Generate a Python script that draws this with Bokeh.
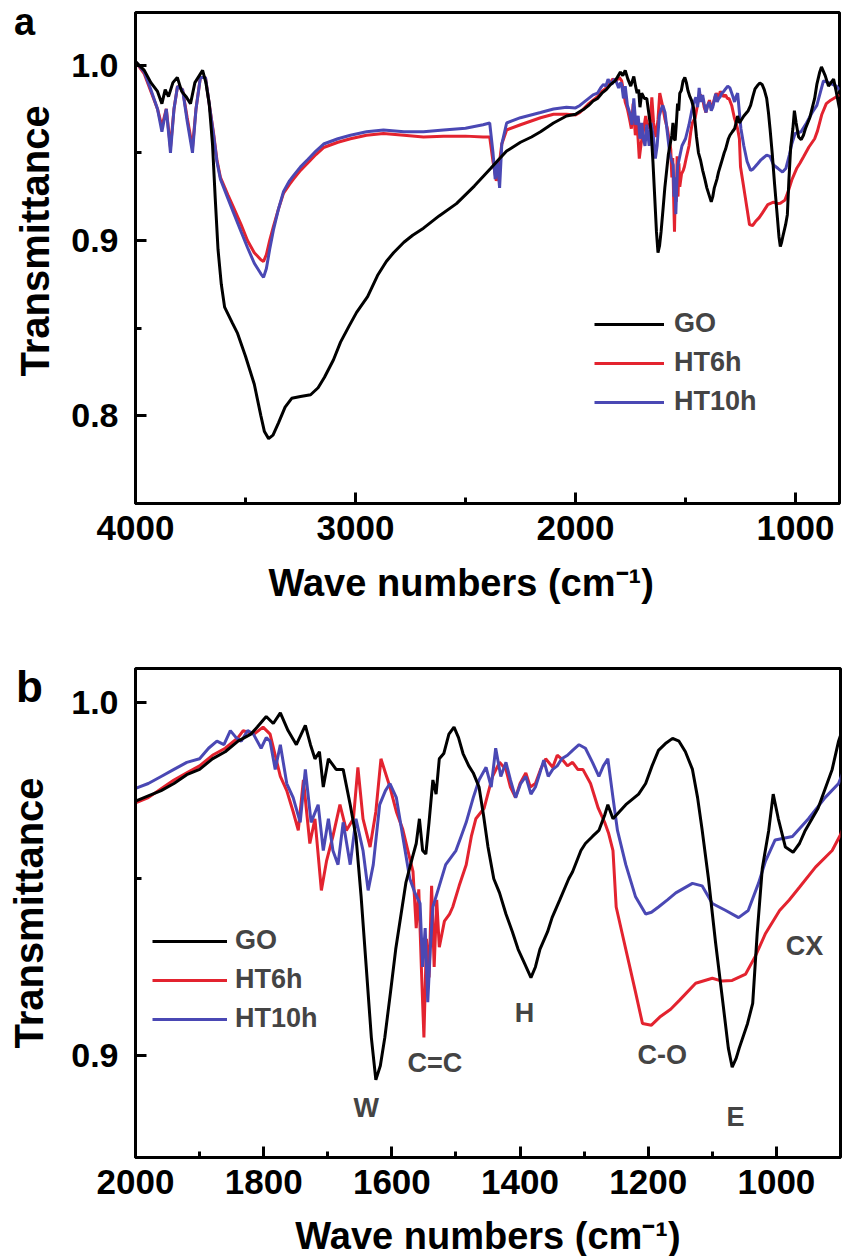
from bokeh.plotting import figure
from bokeh.layouts import column
from bokeh.models import (Range1d, FixedTicker, Legend, LegendItem, Label, PrintfTickFormatter,
                          Title, Div)
from bokeh.embed import file_html
from bokeh.resources import INLINE

# ---------------- data ----------------
go_wn = [4000, 3960, 3930, 3900, 3880, 3865, 3850, 3830, 3810, 3790, 3770, 3750, 3730, 3710, 3695, 3680,
         3665, 3650, 3638, 3625, 3610, 3595, 3560, 3536, 3500, 3460, 3430, 3414, 3395, 3375, 3350, 3320,
         3290, 3250, 3204, 3170, 3141, 3100, 3068, 3030, 2995, 2945, 2900, 2860, 2827, 2780, 2740, 2691,
         2620, 2541, 2460, 2386, 2350, 2313, 2250, 2200, 2159, 2100, 2041, 2000,
         1980, 1960, 1940, 1920, 1900, 1880, 1860, 1840, 1820, 1810, 1796, 1785, 1774, 1762, 1749, 1735,
         1727, 1720, 1713, 1707, 1699, 1687, 1676, 1665, 1656, 1648, 1640, 1632, 1625, 1618, 1611, 1602,
         1594, 1578, 1568, 1562, 1557, 1552, 1547, 1542, 1536, 1531, 1526, 1519, 1511, 1503, 1496, 1489,
         1480, 1473, 1464, 1457, 1450, 1441, 1432, 1422, 1412, 1403, 1393, 1383, 1376, 1369, 1357, 1350,
         1338, 1324, 1318, 1305, 1298, 1287, 1277, 1268, 1263, 1255, 1245, 1235, 1215, 1204, 1194, 1184,
         1172, 1162, 1152, 1142, 1131, 1123, 1116, 1106, 1095, 1084, 1075, 1069, 1063, 1058, 1045, 1037,
         1030, 1022, 1012, 1005, 997, 986, 974, 964, 955, 935, 913, 903, 890, 882, 865, 850, 827, 815, 800]
go_t = [1.002, 0.997, 0.990, 0.985, 0.978, 0.986, 0.982, 0.990, 0.993, 0.985, 0.982, 0.978, 0.990, 0.994, 0.997, 0.990,
        0.978, 0.955, 0.925, 0.895, 0.875, 0.862, 0.853, 0.847, 0.834, 0.818, 0.800, 0.791, 0.787, 0.789, 0.796, 0.805,
        0.810, 0.811, 0.812, 0.816, 0.822, 0.832, 0.842, 0.851, 0.859, 0.868, 0.880, 0.888, 0.893, 0.899, 0.903, 0.907,
        0.914, 0.921, 0.931, 0.941, 0.946, 0.951, 0.956, 0.959, 0.962, 0.967, 0.971, 0.972,
        0.9735, 0.975, 0.977, 0.9795, 0.981, 0.984, 0.986, 0.989, 0.991, 0.993, 0.996, 0.994, 0.997, 0.992, 0.988, 0.9935,
        0.988, 0.984, 0.986, 0.976, 0.984, 0.981, 0.981, 0.971, 0.962, 0.945, 0.925, 0.905, 0.893, 0.897, 0.905, 0.918,
        0.930, 0.949, 0.956, 0.960, 0.967, 0.958, 0.957, 0.966, 0.978, 0.974, 0.984, 0.9855, 0.991, 0.993, 0.990, 0.9855,
        0.982, 0.980, 0.976, 0.968, 0.959, 0.950, 0.946, 0.940, 0.935, 0.930, 0.926, 0.922, 0.925, 0.930, 0.935, 0.939,
        0.944, 0.950, 0.952, 0.958, 0.960, 0.962, 0.9637, 0.968, 0.971, 0.967, 0.969, 0.971, 0.974, 0.977, 0.982, 0.9864,
        0.9885, 0.9898, 0.989, 0.986, 0.981, 0.973, 0.964, 0.950, 0.932, 0.9156, 0.902, 0.8966, 0.899, 0.902, 0.909, 0.9147,
        0.9345, 0.953, 0.9637, 0.974, 0.967, 0.959, 0.9575, 0.960, 0.9637, 0.970, 0.981, 0.989, 0.996, 0.999, 0.994, 0.988,
        0.992, 0.985, 0.975]

ht6_wn = [4000, 3960, 3930, 3900, 3880, 3860, 3841, 3825, 3809, 3786, 3765, 3741, 3725, 3705, 3682, 3665,
          3645, 3630, 3614, 3580, 3555, 3520, 3491, 3460, 3430, 3418, 3405, 3390, 3373, 3350, 3327, 3300,
          3282, 3250, 3218, 3180, 3145, 3080, 3023, 2950, 2873, 2780, 2691, 2600, 2500, 2420, 2390, 2375,
          2360, 2350, 2335, 2313, 2250, 2159, 2100, 2041, 2000,
          1980, 1960, 1940, 1920, 1900, 1880, 1860, 1840, 1832, 1815, 1801, 1790, 1782, 1774, 1764, 1754,
          1746, 1738, 1728, 1720, 1710, 1702, 1692, 1681, 1671, 1660, 1653, 1645, 1634, 1625, 1617, 1610,
          1603, 1593, 1583, 1575, 1567, 1562, 1558, 1554, 1550, 1546, 1542, 1538, 1534, 1530, 1526, 1518,
          1510, 1505, 1495, 1484, 1476, 1469, 1456, 1443, 1432, 1422, 1415, 1407, 1400, 1391, 1384, 1376,
          1368, 1360, 1349, 1342, 1335, 1326, 1318, 1310, 1302, 1290, 1278, 1268, 1262, 1255, 1250, 1240,
          1230, 1220, 1209, 1195, 1182, 1165, 1151, 1126, 1100, 1085, 1069, 1048, 1033, 1017, 995, 980,
          964, 939, 913, 900, 880, 860, 840, 800]
ht6_t = [1.002, 0.995, 0.985, 0.975, 0.965, 0.975, 0.953, 0.975, 0.988, 0.986, 0.970, 0.953, 0.975, 0.993, 0.993, 0.978,
         0.961, 0.946, 0.936, 0.926, 0.919, 0.909, 0.900, 0.893, 0.889, 0.888, 0.892, 0.900, 0.908, 0.918, 0.927, 0.932,
         0.935, 0.940, 0.944, 0.949, 0.953, 0.956, 0.958, 0.960, 0.961, 0.960, 0.959, 0.9595, 0.9595, 0.959, 0.959, 0.945,
         0.934, 0.940, 0.955, 0.963, 0.966, 0.970, 0.972, 0.972, 0.9715,
         0.973, 0.9755, 0.978, 0.980, 0.982, 0.985, 0.987, 0.990, 0.992, 0.991, 0.993, 0.991, 0.985, 0.979, 0.975, 0.969,
         0.9637, 0.978, 0.960, 0.967, 0.9467, 0.955, 0.962, 0.971, 0.9637, 0.967, 0.9816, 0.967, 0.959, 0.969, 0.984, 0.980,
         0.976, 0.969, 0.964, 0.958, 0.952, 0.936, 0.947, 0.925, 0.905, 0.933, 0.922, 0.948, 0.925, 0.944, 0.9306, 0.938,
         0.940, 0.942, 0.948, 0.954, 0.962, 0.967, 0.970, 0.979, 0.983, 0.981, 0.976, 0.973, 0.977, 0.980, 0.976, 0.977,
         0.981, 0.984, 0.9816, 0.985, 0.984, 0.982, 0.983, 0.981, 0.981, 0.977, 0.970, 0.966, 0.963, 0.958, 0.942, 0.934,
         0.926, 0.918, 0.909, 0.9085, 0.9108, 0.913, 0.9156, 0.9204, 0.9218, 0.921, 0.9212, 0.923, 0.928, 0.9345, 0.941, 0.944,
         0.9476, 0.9533, 0.958, 0.9625, 0.972, 0.978, 0.980, 0.983]

ht10_wn = [4000, 3960, 3930, 3900, 3880, 3860, 3841, 3825, 3809, 3786, 3765, 3741, 3725, 3705, 3682, 3665,
           3645, 3630, 3614, 3580, 3555, 3520, 3491, 3460, 3430, 3418, 3405, 3390, 3373, 3350, 3327, 3300,
           3282, 3250, 3218, 3180, 3145, 3080, 3023, 2950, 2873, 2780, 2691, 2600, 2500, 2420, 2390, 2375,
           2365, 2355, 2345, 2335, 2313, 2250, 2159, 2100, 2041, 2000,
           1980, 1960, 1940, 1920, 1900, 1886, 1873, 1862, 1852, 1843, 1835, 1825, 1816, 1804, 1796, 1790,
           1782, 1774, 1764, 1754, 1743, 1735, 1726, 1715, 1707, 1699, 1692, 1684, 1676, 1665, 1656, 1645,
           1637, 1629, 1619, 1610, 1603, 1593, 1583, 1572, 1564, 1556, 1552, 1548, 1544, 1540, 1536, 1526,
           1516, 1508, 1500, 1492, 1484, 1473, 1464, 1453, 1445, 1438, 1430, 1422, 1415, 1407, 1399, 1391,
           1383, 1376, 1369, 1363, 1356, 1349, 1342, 1335, 1326, 1318, 1308, 1298, 1287, 1277, 1270, 1263,
           1255, 1248, 1235, 1220, 1204, 1195, 1184, 1170, 1157, 1131, 1116, 1100, 1079, 1059, 1044, 1028,
           1017, 1002, 975, 950, 924, 903, 873, 850, 814, 800]
ht10_t = [1.002, 0.996, 0.986, 0.975, 0.962, 0.975, 0.950, 0.975, 0.988, 0.986, 0.968, 0.950, 0.975, 0.993, 0.993, 0.978,
          0.960, 0.945, 0.935, 0.924, 0.916, 0.905, 0.896, 0.887, 0.881, 0.879, 0.884, 0.895, 0.906, 0.918, 0.928, 0.934,
          0.937, 0.942, 0.946, 0.951, 0.955, 0.958, 0.960, 0.962, 0.963, 0.962, 0.962, 0.963, 0.964, 0.966, 0.967, 0.950,
          0.935, 0.945, 0.930, 0.955, 0.967, 0.970, 0.973, 0.975, 0.976, 0.9756,
          0.977, 0.979, 0.981, 0.983, 0.984, 0.987, 0.989, 0.988, 0.992, 0.990, 0.989, 0.992, 0.991, 0.987, 0.990, 0.989,
          0.981, 0.988, 0.977, 0.973, 0.966, 0.981, 0.966, 0.971, 0.958, 0.967, 0.958, 0.954, 0.966, 0.954, 0.967, 0.958,
          0.9467, 0.954, 0.971, 0.975, 0.977, 0.973, 0.962, 0.950, 0.946, 0.943, 0.925, 0.936, 0.915, 0.930, 0.942, 0.948,
          0.954, 0.956, 0.958, 0.962, 0.966, 0.973, 0.978, 0.9816, 0.976, 0.987, 0.979, 0.983, 0.978, 0.973, 0.977, 0.979,
          0.974, 0.976, 0.980, 0.9836, 0.979, 0.981, 0.982, 0.984, 0.985, 0.9864, 0.988, 0.987, 0.983, 0.979, 0.982, 0.984,
          0.973, 0.9637, 0.954, 0.945, 0.940, 0.9405, 0.942, 0.944, 0.946, 0.9487, 0.948, 0.943, 0.941, 0.939, 0.941, 0.9487,
          0.955, 0.961, 0.962, 0.967, 0.973, 0.977, 0.991, 0.990, 0.988, 0.986]

series_names = ["GO", "HT6h", "HT10h"]
series_colors = ["#000000", "#e3232f", "#4a48b4"]

# axis ticks
a_x_major = [4000, 3000, 2000, 1000]
a_x_minor = [3500, 2500, 1500]
a_y_major = [0.8, 0.9, 1.0]
a_y_minor = [0.75, 0.85, 0.95]
b_x_major = [2000, 1800, 1600, 1400, 1200, 1000]
b_x_minor = [1900, 1700, 1500, 1300, 1100]
b_y_major = [0.9, 1.0]
b_y_minor = [0.95]

# peak annotations of panel b
peak_labels = ["W", "C=C", "H", "C-O", "E", "CX"]
peak_label_x = [1640, 1533, 1393, 1178, 1064, 956]
peak_label_y = [0.885, 0.8977, 0.9119, 0.900, 0.8824, 0.931]

FONT = "Liberation Sans"
x_label = "Wave numbers (cm\u207B\u00B9)"
y_label = "Transmittance"


def style(p, xt, xm, yt, ym):
    p.xaxis.ticker = FixedTicker(ticks=xt, minor_ticks=xm)
    p.yaxis.ticker = FixedTicker(ticks=yt, minor_ticks=ym)
    p.yaxis.formatter = PrintfTickFormatter(format="%.1f")
    p.xgrid.visible = False
    p.ygrid.visible = False
    for ax in (p.xaxis[0], p.yaxis[0]):
        ax.axis_line_width = 3
        ax.axis_line_color = "black"
        ax.major_tick_line_width = 3
        ax.minor_tick_line_width = 3
        ax.major_tick_line_color = "black"
        ax.minor_tick_line_color = "black"
        ax.major_tick_in = 11
        ax.major_tick_out = 0
        ax.minor_tick_in = 6
        ax.minor_tick_out = 0
        ax.major_label_text_font = FONT
        ax.major_label_text_font_style = "bold"
        ax.major_label_text_color = "black"
        ax.axis_label_text_font = FONT
        ax.axis_label_text_font_style = "bold"
        ax.axis_label_text_color = "black"
    p.xaxis.axis_label_text_font_size = "38px"
    p.yaxis.axis_label_text_font_size = "40px"
    p.xaxis.major_label_text_font_size = "35px"
    p.yaxis.major_label_text_font_size = "34px"
    p.xaxis.major_label_standoff = 12
    p.yaxis.major_label_standoff = 17
    p.xaxis.axis_label_standoff = 18
    p.yaxis.axis_label_standoff = 17
    p.outline_line_color = "black"
    p.outline_line_width = 3
    p.outline_line_alpha = 1.0
    p.background_fill_color = "white"
    p.border_fill_color = "white"


def draw(p, lw):
    data = [(go_wn, go_t), (ht6_wn, ht6_t), (ht10_wn, ht10_t)]
    rs = {}
    for idx in (1, 2, 0):
        wn, t = data[idx]
        rs[idx] = p.line(wn, t, line_color=series_colors[idx], line_width=lw)
    return [rs[0], rs[1], rs[2]]


def add_legend(p, rends, loc, gw, standoff):
    items = [LegendItem(label=n, renderers=[r]) for n, r in zip(series_names, rends)]
    lg = Legend(items=items, location=loc, glyph_width=gw, glyph_height=20, label_height=20,
                spacing=8, padding=0, margin=0, border_line_color=None, background_fill_alpha=0,
                label_text_font=FONT, label_text_font_style="bold", label_text_font_size="27px",
                label_standoff=standoff)
    p.add_layout(lg)


def letter(txt, left, top, size):
    return Div(text=txt, width=40, height=size,
               styles={"position": "absolute", "left": f"{left}px", "top": f"{top}px",
                       "font-family": FONT, "font-weight": "bold", "font-size": f"{size}px",
                       "line-height": f"{size}px", "color": "black", "margin": "0", "padding": "0"})


# ---------------- panel a ----------------
pa = figure(frame_width=704, frame_height=491, x_range=Range1d(4000, 800), y_range=Range1d(0.75, 1.03),
            output_backend="svg", toolbar_location=None,
            min_border_left=135, min_border_right=7, min_border_top=12, min_border_bottom=127)
style(pa, a_x_major, a_x_minor, a_y_major, a_y_minor)
ra = draw(pa, 3)
add_legend(pa, ra, (459, 86), 70, 10)
pa.add_layout(Title(text=x_label, align="left", offset=133, standoff=36, vertical_align="middle",
                    text_font=FONT, text_font_style="bold", text_font_size="38px",
                    text_color="black"), "below")
pa.add_layout(Title(text=y_label, align="left", offset=127, standoff=22, vertical_align="middle",
                    text_font=FONT, text_font_style="bold", text_font_size="40px",
                    text_color="black"), "left")

# ---------------- panel b ----------------
pb = figure(frame_width=705, frame_height=489, x_range=Range1d(2000, 900), y_range=Range1d(0.871, 1.0096),
            output_backend="svg", toolbar_location=None,
            min_border_left=133, min_border_right=8, min_border_top=38, min_border_bottom=99)
style(pb, b_x_major, b_x_minor, b_y_major, b_y_minor)
pb.xaxis.axis_label = x_label
pb.yaxis.axis_label = y_label
rb = draw(pb, 3)
add_legend(pb, rb, (17, 123), 75, 8)
for txt, lx, ly in zip(peak_labels, peak_label_x, peak_label_y):
    pb.add_layout(Label(x=lx, y=ly, text=txt, text_font=FONT, text_font_style="bold",
                        text_font_size="27px", text_align="center", text_baseline="middle"))

layout = column(pa, pb, letter("a", 14, 3, 38), letter("b", 16, 665, 44), spacing=0)
open("out.html", "w").write(file_html(layout, INLINE))
